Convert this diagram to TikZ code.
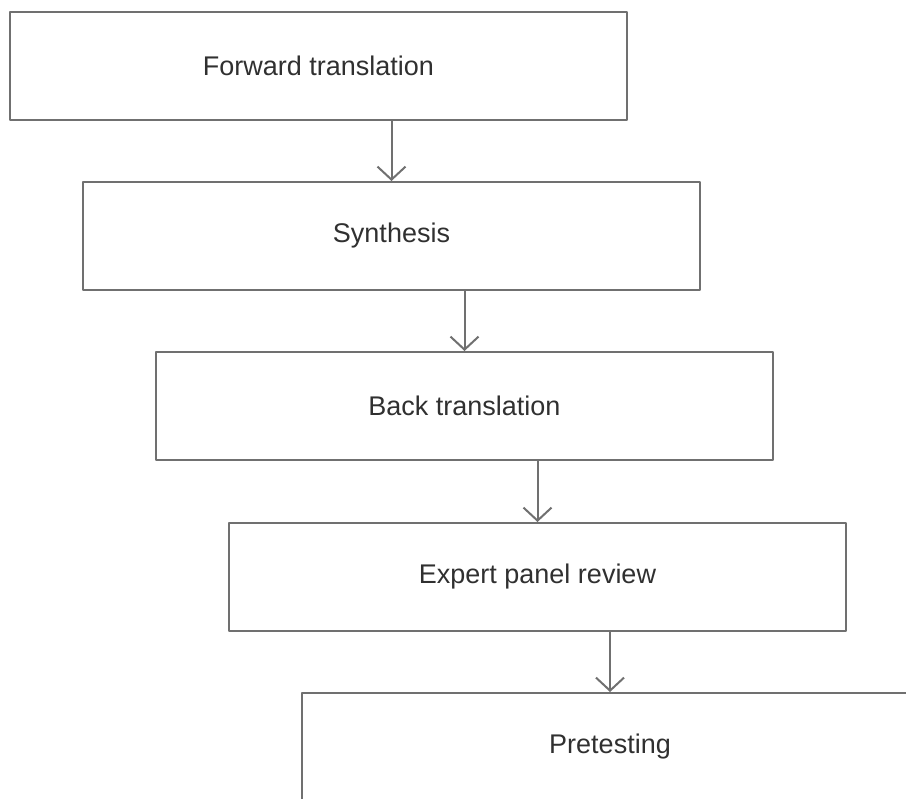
\documentclass[tikz,border=0pt]{standalone}
\usepackage{fontspec}
\setmainfont{Liberation Sans}
\usepackage{xcolor}
\usetikzlibrary{arrows.meta}
\definecolor{boxgray}{HTML}{707070}
\definecolor{textgray}{HTML}{303030}
\tikzset{
  stage/.style={draw=boxgray,line width=2pt,rectangle,minimum width=617pt,minimum height=108pt,inner sep=0pt,text=textgray,font=\fontsize{27}{32}\selectfont},
  flow/.style={draw=boxgray,line width=2pt,-{Straight Barb[length=13pt,width=28pt]}}
}
\begin{document}
\begin{tikzpicture}[line cap=round,line join=round,x=1pt,y=-1pt]
\clip(0,0) rectangle (906,799);
\node[stage] (forward) at (318.5,66) {Forward translation};
\node[stage] (synth) at (391.5,236) {Synthesis};
\node[stage] (back) at (464.5,406) {Back translation};
\node[stage] (panel) at (537.5,577) {Expert panel review};
\node[stage] (pretest) at (610,747) {Pretesting};
\draw[flow] (forward.south -| synth.north) -- (synth.north);
\draw[flow] (synth.south -| back.north) -- (back.north);
\draw[flow] (back.south -| panel.north) -- (panel.north);
\draw[flow] (panel.south -| pretest.north) -- (pretest.north);
\end{tikzpicture}
\end{document}
